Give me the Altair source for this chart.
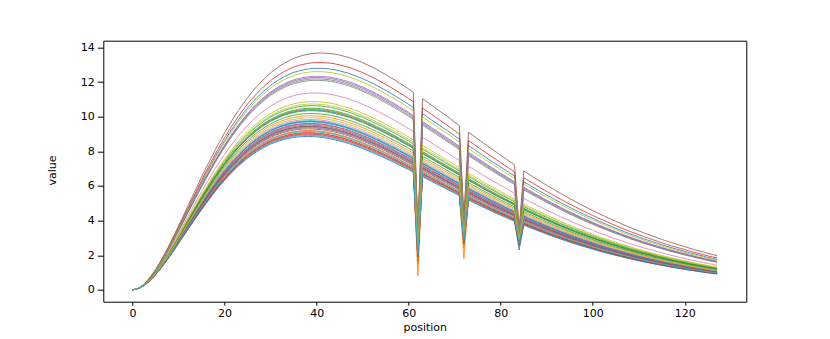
import altair as alt
import pandas as pd

# x positions of every curve
POSITIONS = list(range(128))

# profile of the lowest curve, relative to its peak (peak near position 38)
SHAPE_LOW = [
    0.0, 0.005, 0.018, 0.039, 0.066, 0.098, 0.134, 0.173, 0.215, 0.258,
    0.302, 0.347, 0.392, 0.436, 0.480, 0.523, 0.564, 0.604, 0.643, 0.680,
    0.714, 0.747, 0.778, 0.807, 0.833, 0.858, 0.880, 0.901, 0.919, 0.935,
    0.950, 0.962, 0.972, 0.981, 0.988, 0.993, 0.997, 0.999, 1.000, 0.999,
    0.997, 0.994, 0.990, 0.984, 0.978, 0.970, 0.962, 0.953, 0.943, 0.932,
    0.921, 0.909, 0.896, 0.883, 0.870, 0.856, 0.842, 0.828, 0.813, 0.798,
    0.783, 0.768, 0.753, 0.737, 0.722, 0.706, 0.691, 0.676, 0.660, 0.645,
    0.630, 0.615, 0.600, 0.585, 0.570, 0.556, 0.541, 0.527, 0.513, 0.499,
    0.486, 0.473, 0.460, 0.447, 0.434, 0.422, 0.409, 0.398, 0.386, 0.375,
    0.363, 0.352, 0.342, 0.331, 0.321, 0.311, 0.301, 0.292, 0.283, 0.274,
    0.265, 0.256, 0.248, 0.240, 0.232, 0.225, 0.217, 0.210, 0.203, 0.196,
    0.189, 0.183, 0.177, 0.171, 0.165, 0.159, 0.154, 0.148, 0.143, 0.138,
    0.133, 0.128, 0.124, 0.119, 0.115, 0.111, 0.107, 0.103,
]

# profile of the highest curve, relative to its peak (peak near position 41)
SHAPE_HIGH = [
    0.0, 0.004, 0.016, 0.034, 0.058, 0.086, 0.118, 0.153, 0.190, 0.230,
    0.270, 0.311, 0.353, 0.394, 0.435, 0.476, 0.516, 0.554, 0.592, 0.628,
    0.663, 0.696, 0.727, 0.757, 0.785, 0.812, 0.836, 0.859, 0.879, 0.898,
    0.916, 0.931, 0.945, 0.957, 0.968, 0.977, 0.984, 0.990, 0.994, 0.998,
    0.999, 1.000, 0.999, 0.998, 0.995, 0.991, 0.986, 0.981, 0.974, 0.967,
    0.959, 0.950, 0.941, 0.931, 0.920, 0.909, 0.897, 0.886, 0.873, 0.861,
    0.848, 0.834, 0.821, 0.807, 0.793, 0.779, 0.765, 0.751, 0.737, 0.723,
    0.708, 0.694, 0.680, 0.665, 0.651, 0.637, 0.623, 0.609, 0.595, 0.582,
    0.568, 0.555, 0.541, 0.528, 0.515, 0.502, 0.490, 0.477, 0.465, 0.453,
    0.441, 0.430, 0.418, 0.407, 0.396, 0.385, 0.375, 0.364, 0.354, 0.344,
    0.335, 0.325, 0.316, 0.307, 0.298, 0.289, 0.281, 0.272, 0.264, 0.256,
    0.249, 0.241, 0.234, 0.227, 0.220, 0.213, 0.206, 0.200, 0.194, 0.188,
    0.182, 0.176, 0.170, 0.165, 0.160, 0.154, 0.149, 0.145,
]

# peak value of each of the 40 curves
PEAKS = [
    12.81, 10.45, 10.65, 13.14, 12.35, 13.68, 11.39, 12.12, 12.62, 9.78,
    10.40, 10.07, 10.50, 9.62, 12.28, 9.52, 8.95, 9.45, 10.89, 9.70,
    9.74, 9.05, 10.36, 9.08, 9.58, 9.30, 9.20, 9.36, 10.75, 8.92,
    8.86, 9.20, 10.20, 9.00, 9.40, 9.45, 9.85, 12.20, 9.95, 9.15,
]

# the three narrow dips: positions and the value each curve drops to there
DIP_POSITIONS = [62, 72, 84]
DIP_62 = [
    2.9, 2.2, 3.1, 3.4, 2.6, 3.6, 2.8, 2.3, 3.3, 2.4,
    2.0, 2.7, 1.9, 2.5, 3.0, 2.1, 1.7, 2.1, 2.9, 2.3,
    2.4, 0.8, 2.6, 1.6, 2.2, 1.9, 2.0, 2.5, 3.2, 1.8,
    2.2, 1.5, 2.7, 1.9, 2.3, 2.0, 2.4, 3.1, 2.6, 2.0,
]
DIP_72 = [
    3.6, 3.0, 3.5, 4.0, 3.3, 4.2, 3.4, 3.1, 3.8, 3.0,
    2.9, 3.2, 2.8, 3.1, 3.6, 2.9, 2.6, 3.0, 3.4, 2.9,
    2.7, 1.8, 3.2, 2.6, 3.0, 2.8, 2.7, 3.1, 3.5, 2.6,
    2.7, 2.4, 3.3, 2.7, 3.0, 2.8, 3.0, 3.7, 3.2, 2.8,
]
DIP_84 = [
    3.2, 3.1, 3.1, 3.4, 3.0, 3.5, 3.2, 3.0, 3.3, 2.9,
    3.0, 3.0, 3.0, 2.9, 3.1, 2.8, 2.6, 2.9, 3.1, 2.8,
    2.7, 2.6, 3.0, 2.7, 2.9, 2.8, 2.7, 2.9, 3.1, 2.5,
    2.3, 2.6, 3.0, 2.6, 2.9, 2.8, 2.9, 3.2, 3.0, 2.7,
]

X_TICKS = [0, 20, 40, 60, 80, 100, 120]
Y_TICKS = [0, 2, 4, 6, 8, 10, 12, 14]

TAB10 = ["#1f77b4", "#ff7f0e", "#2ca02c", "#d62728", "#9467bd",
         "#8c564b", "#e377c2", "#7f7f7f", "#bcbd22", "#17becf"]

lo_peak, hi_peak = min(PEAKS), max(PEAKS)
rows = []
series_ids = []
for i, peak in enumerate(PEAKS):
    sid = f"s{i:02d}"
    series_ids.append(sid)
    w = (peak - lo_peak) / (hi_peak - lo_peak)
    dips = {DIP_POSITIONS[0]: DIP_62[i], DIP_POSITIONS[1]: DIP_72[i], DIP_POSITIONS[2]: DIP_84[i]}
    for j, pos in enumerate(POSITIONS):
        if pos in dips:
            v = dips[pos]
        else:
            v = peak * (SHAPE_LOW[j] + w * (SHAPE_HIGH[j] - SHAPE_LOW[j]))
        rows.append({"series": sid, "position": pos, "value": v})
df = pd.DataFrame(rows)

colors = [TAB10[i % 10] for i in range(len(series_ids))]

FONT = "DejaVu Sans"

chart = alt.Chart(df).mark_line(strokeWidth=0.9, opacity=0.9, clip=True).encode(
    x=alt.X(
        "position:Q",
        scale=alt.Scale(domain=[-6.35, 133.35], nice=False, zero=False),
        axis=alt.Axis(
            values=X_TICKS, title="position", grid=False, domain=False,
            tickSize=3.5, tickColor="black", tickWidth=1,
            labelFont=FONT, labelFontSize=11, labelColor="black", labelPadding=2,
            titleFont=FONT, titleFontSize=11, titleFontWeight="normal", titleColor="black",
            titleX=321.5, titleY=26, titleBaseline="middle", titleAlign="center",
        ),
    ),
    y=alt.Y(
        "value:Q",
        scale=alt.Scale(domain=[-0.685, 14.39], nice=False, zero=False),
        axis=alt.Axis(
            values=Y_TICKS, title="value", grid=False, domain=False,
            tickSize=6, tickColor="black", tickWidth=1,
            labelFont=FONT, labelFontSize=11, labelColor="black", labelPadding=3,
            titleFont=FONT, titleFontSize=11, titleFontWeight="normal", titleColor="black",
            titleX=-50.6, titleY=129.3, titleAngle=-90, titleBaseline="middle", titleAlign="center",
        ),
    ),
    color=alt.Color("series:N", scale=alt.Scale(domain=series_ids, range=colors), legend=None),
).properties(
    width=643,
    height=261,
    background="white",
    autosize=alt.AutoSizeParams(type="none"),
    padding={"left": 95.3, "top": 32.7, "right": 20, "bottom": 40},
).configure_view(
    stroke="black", strokeWidth=1
)

chart.save("out.html", embed_options={"renderer": "svg", "actions": False})
